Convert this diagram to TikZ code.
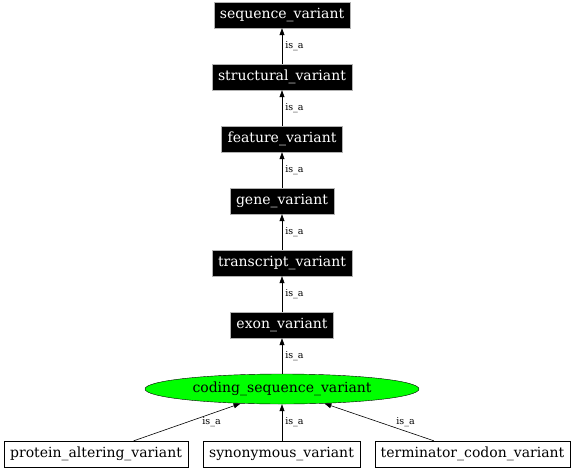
\documentclass[tikz,border=0pt]{standalone}
\usepackage{fontspec}
\setmainfont{DejaVu Serif}
\usetikzlibrary{arrows.meta,shapes.geometric}

\begin{document}
\begin{tikzpicture}[x=1pt,y=-1pt]

        \useasboundingbox (0,0) rectangle (576,469);

        \begin{scope}[every node/.style={draw=gray!60,fill=black,text=white,inner xsep=6pt,inner ysep=0pt,minimum height=26pt,font=\fontsize{14}{16}\selectfont}]
          \node (seq)    at (282,15)  {sequence\_variant};
          \node (struct) at (282,77)  {structural\_variant};
          \node (feat)   at (282,139) {feature\_variant};
          \node (gene)   at (282,201) {gene\_variant};
          \node (trans)  at (282,263) {transcript\_variant};
          \node (exon)   at (282,325) {exon\_variant};
        \end{scope}

        \node[ellipse,draw,fill=green,inner sep=0pt,minimum width=274pt,minimum height=30pt,font=\fontsize{14}{16}\selectfont] (coding) at (282,389) {coding\_sequence\_variant};

        \begin{scope}[every node/.style={draw,fill=white,inner xsep=6pt,inner ysep=0pt,minimum height=26pt,font=\fontsize{14}{16}\selectfont}]
          \node (prot)  at (96,454)    {protein\_altering\_variant};
          \node (syn)   at (281.5,454) {synonymous\_variant};
          \node (term)  at (472.5,454) {terminator\_codon\_variant};
        \end{scope}

        \begin{scope}[every node/.style={right,inner sep=3pt,font=\fontsize{9.5}{11}\selectfont}]

          \begin{scope}[every edge/.style={draw,line width=0.6pt,-{Triangle[length=7pt,width=5pt]}}]
            \path (struct) edge node {is\_a} (seq);
            \path (feat)   edge node {is\_a} (struct);
            \path (gene)   edge node {is\_a} (feat);
            \path (trans)  edge node {is\_a} (gene);
            \path (exon)   edge node {is\_a} (trans);
            \path (coding) edge node {is\_a} (exon);
            \path (prot)   edge node[xshift=12pt] {is\_a} (coding);
            \path (syn.north -| coding) edge node {is\_a} (coding);
            \path (term)   edge node[xshift=14pt] {is\_a} (coding);
          \end{scope}
        \end{scope}

      \end{tikzpicture}
\end{document}
